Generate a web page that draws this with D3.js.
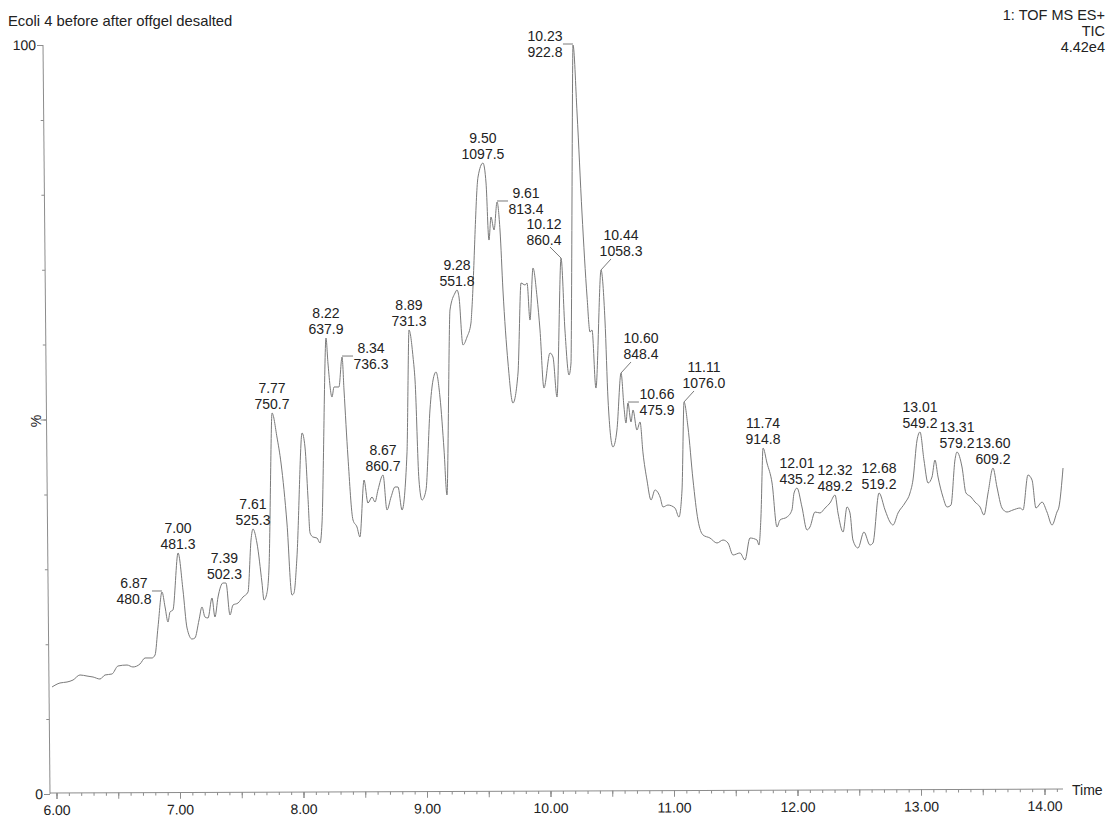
<!DOCTYPE html>
<html><head><meta charset="utf-8">
<script src="https://cdn.jsdelivr.net/npm/d3@7"></script>
<style>body{margin:0;background:#fff} text{font-family:"Liberation Sans",Arial,sans-serif;fill:#222}</style>
</head><body><svg id="c" width="1107" height="821"></svg>
<script>
// ---- data ----
const traceTime = [5.964,6.028,6.085,6.134,6.190,6.247,6.296,6.352,6.393,6.449,6.498,6.571,6.619,6.676,6.717,6.773,6.798,6.822,
6.854,6.879,6.903,6.919,6.943,6.984,7.024,7.057,7.097,7.121,7.154,7.178,
7.202,7.227,7.259,7.283,7.308,7.348,7.372,7.405,7.429,7.470,7.510,7.551,
7.575,7.591,7.623,7.664,7.680,7.704,7.721,7.745,7.785,7.818,7.866,7.907,
7.923,7.947,7.988,8.012,8.036,8.053,8.077,8.109,8.134,8.150,8.182,8.198,
8.231,8.247,8.287,8.312,8.328,8.360,8.401,8.433,8.457,8.490,8.522,8.555,
8.579,8.603,8.644,8.676,8.709,8.741,8.765,8.798,8.838,8.854,8.887,8.903,
8.935,8.960,8.992,9.024,9.049,9.073,9.105,9.138,9.162,9.186,9.227,9.243,
9.259,9.291,9.324,9.356,9.364,9.413,9.453,9.478,9.502,9.518,9.543,9.567,
9.591,9.615,9.656,9.696,9.737,9.761,9.794,9.810,9.834,9.858,9.891,9.915,
9.947,9.996,10.020,10.053,10.085,10.117,10.150,10.166,10.182,10.215,10.255,10.296,
10.320,10.336,10.368,10.409,10.441,10.466,10.506,10.538,10.571,10.595,10.611,10.627,
10.652,10.668,10.700,10.725,10.749,10.781,10.814,10.846,10.887,10.911,10.951,11.008,
11.040,11.065,11.081,11.113,11.154,11.194,11.235,11.291,11.348,11.397,11.437,11.478,
11.534,11.575,11.615,11.672,11.688,11.704,11.721,11.753,11.794,11.834,11.858,11.915,
11.955,11.972,11.996,12.036,12.077,12.101,12.142,12.182,12.223,12.263,12.304,12.328,
12.369,12.401,12.425,12.449,12.490,12.538,12.587,12.611,12.660,12.709,12.749,12.773,
12.814,12.870,12.911,12.935,12.968,12.992,13.024,13.057,13.089,13.113,13.138,13.178,
13.211,13.243,13.275,13.291,13.332,13.364,13.405,13.437,13.478,13.510,13.543,13.583,
13.615,13.656,13.696,13.745,13.802,13.826,13.866,13.899,13.931,13.980,14.020,14.061,
14.101,14.117,14.150];
const traceValue = [14.29,14.82,14.95,15.22,15.89,15.75,15.62,15.35,15.89,16.02,17.09,17.22,16.96,17.36,18.16,18.16,18.56,22.30,
26.97,24.97,22.96,24.30,24.57,32.18,27.24,22.16,20.69,20.83,23.23,24.97,
23.63,23.50,26.17,23.63,26.30,28.17,28.17,23.90,25.23,25.50,26.30,26.97,
33.91,35.38,33.51,28.17,25.90,26.84,30.31,50.87,47.66,44.19,36.18,26.57,
26.84,31.64,48.20,46.33,39.65,34.85,34.31,34.18,33.51,36.18,60.88,57.54,
53.00,54.34,54.34,58.34,53.94,44.99,36.58,35.65,34.31,41.92,38.85,39.65,
38.98,40.59,42.59,37.92,39.65,40.99,40.99,37.92,45.53,61.95,58.34,55.27,
41.92,39.25,40.59,51.27,55.27,56.34,53.00,45.93,39.92,64.62,66.89,67.29,
66.35,59.95,61.01,62.88,64.89,82.37,84.24,81.57,73.96,77.03,75.30,79.04,
75.30,67.29,57.54,52.20,56.21,68.22,67.96,68.22,63.28,70.22,66.35,61.95,
54.20,58.88,58.34,53.00,71.56,61.95,55.94,57.54,100.0,90.92,77.57,66.35,
61.68,61.95,54.20,69.96,63.28,52.60,46.33,48.60,56.21,51.67,49.53,52.20,
49.67,51.27,48.60,49.67,45.53,41.92,39.25,40.59,39.65,38.32,38.58,38.18,
36.98,40.59,52.34,49.00,41.92,36.58,34.58,34.18,33.51,33.91,33.51,31.91,
32.18,31.24,34.18,33.91,33.24,36.98,46.19,44.19,41.52,35.65,36.58,36.98,
37.92,40.19,40.85,38.32,35.25,35.65,37.65,37.52,38.18,38.85,39.92,37.52,
34.98,38.32,37.52,33.91,32.84,34.98,33.24,33.51,40.19,37.92,36.31,35.91,
37.52,38.85,40.19,41.92,47.26,48.33,44.59,41.52,42.32,44.59,42.32,39.65,
38.32,38.58,44.59,45.66,43.66,40.19,39.65,38.98,38.32,37.25,40.19,43.52,
40.99,38.18,37.65,37.92,38.18,37.92,42.59,41.92,38.18,38.98,37.65,35.91,
37.65,38.32,43.52];

const xTickValues = [6,7,8,9,10,11,12,13,14];
const xTickLabels = ["6.00","7.00","8.00","9.00","10.00","11.00","12.00","13.00","14.00"];
const yTickValues = [0,100];
const yTickLabels = ["0","100"];

const peakRT = ["6.87","7.00","7.39","7.61","7.77","8.22","8.34","8.67","8.89","9.28","9.50","9.61","10.12","10.23","10.44","10.60","10.66","11.11","11.74","12.01","12.32","12.68","13.01","13.31","13.60"];
const peakMZ = ["480.8","481.3","502.3","525.3","750.7","637.9","736.3","860.7","731.3","551.8","1097.5","813.4","860.4","922.8","1058.3","848.4","475.9","1076.0","914.8","435.2","489.2","519.2","549.2","579.2","609.2"];
const peakTime = [6.854,6.984,7.360,7.591,7.745,8.182,8.312,8.644,8.854,9.243,9.453,9.567,10.085,10.182,10.409,10.571,10.627,11.081,11.721,11.996,12.304,12.660,12.992,13.291,13.583];
const peakValue = [26.97,32.18,28.17,35.38,50.87,60.88,58.34,42.59,61.95,67.29,84.24,79.04,71.56,100.0,69.96,56.21,52.20,52.34,46.19,40.85,39.92,40.19,48.33,45.66,43.52];

const titleText = "Ecoli 4 before after offgel desalted";
const infoLines = ["1: TOF MS ES+","TIC","4.42e4"];

// ---- layout (not data) ----
const labelPlacement = ["left","top","top","top","top","top","right","top","top","top","top","right","diagL","left","diagR","diagR","right","diagR","top","top","top","top","top","top","top"];

const W = 1107, H = 821;
const svg = d3.select("#c");
svg.append("rect").attr("width",W).attr("height",H).attr("fill","#fff");

const x = d3.scaleLinear().domain([6,14]).range([56.5,1044.5]);
const y = d3.scaleLinear().domain([0,100]).range([794,45]);
const axisColor = "#8c8c8c";

// x axis (slightly tilted like the scanned original)
const gx = svg.append("g").attr("transform","translate(50,793) skewY(-0.226) translate(-50,0)");
gx.append("line").attr("x1",50).attr("x2",1063).attr("y1",0).attr("y2",0).attr("stroke",axisColor);
const minor = d3.range(60,142).map(d=>d/10);
const half = d3.range(12,29).map(d=>d/2);
const gxMinor = gx.append("g").call(d3.axisBottom(x).tickValues(minor).tickSize(3).tickFormat(""));
const gxHalf = gx.append("g").call(d3.axisBottom(x).tickValues(half).tickSize(6).tickFormat(""));
const gxLab = gx.append("g").call(d3.axisBottom(x).tickValues(xTickValues).tickSize(6).tickPadding(6)
  .tickFormat((d,i)=>xTickLabels[i]));
[gxMinor,gxHalf,gxLab].forEach(g=>{
  g.select(".domain").remove();
  g.selectAll("line").attr("stroke",axisColor);
  g.selectAll("text").attr("font-size",14).attr("fill","#222").attr("font-family","Liberation Sans, Arial, sans-serif");
});

// y axis
const gy = svg.append("g").attr("transform","translate(50,794) skewX(0.535) translate(0,-794)");
gy.append("line").attr("x1",0).attr("x2",0).attr("y1",y(0)).attr("y2",y(100)).attr("stroke",axisColor);
const gyMinor = gy.append("g").call(d3.axisLeft(y).tickValues(d3.range(0,101,10)).tickSize(3).tickFormat(""));
const gyMid = gy.append("g").call(d3.axisLeft(y).tickValues([50]).tickSize(6).tickFormat(""));
const gyLab = gy.append("g").call(d3.axisLeft(y).tickValues(yTickValues).tickSize(6).tickPadding(1)
  .tickFormat((d,i)=>yTickLabels[i]));
[gyMinor,gyMid,gyLab].forEach(g=>{
  g.select(".domain").remove();
  g.selectAll("line").attr("stroke",axisColor);
  g.selectAll("text").attr("font-size",14).attr("fill","#222").attr("font-family","Liberation Sans, Arial, sans-serif");
});

svg.append("text").attr("transform","translate(37,421) rotate(-90)").attr("text-anchor","middle")
  .attr("dominant-baseline","middle").attr("font-size",14).text("%");
svg.append("text").attr("x",1072).attr("y",795).attr("font-size",14).text("Time");

// title / info
svg.append("text").attr("x",8).attr("y",26).attr("font-size",14.8).text(titleText);
svg.append("g").selectAll("text").data(infoLines).join("text")
  .attr("x",1105).attr("y",(d,i)=>20+i*16).attr("text-anchor","end").attr("font-size",14.5).text(d=>d);

// trace
const pts = traceTime.map((t,i)=>[t,traceValue[i]]);
svg.append("path").datum(pts)
  .attr("d",d3.line().curve(d3.curveMonotoneX).x(d=>x(d[0])).y(d=>y(d[1])))
  .attr("fill","none").attr("stroke","#7a7a7a").attr("stroke-width",1).attr("stroke-linejoin","round");

// annotations
const ann = svg.append("g");
const LH = 16;
peakRT.forEach((rt,i)=>{
  const ax = x(peakTime[i]), ay = y(peakValue[i]);
  const type = labelPlacement[i];
  let cx, b2, lead = null;
  if (type==="top"){ cx = ax; b2 = ay-4; }
  else if (type==="left"){ cx = ax-28; b2 = ay+12; lead=[ax-10,ay-1,ax,ay-1]; }
  else if (type==="right"){ cx = ax+29; b2 = ay+12; lead=[ax,ay-1,ax+11,ay-1]; }
  else if (type==="diagL"){ cx = ax-17; b2 = ay-13; lead=[ax,ay,ax-11,ay-11]; }
  else { cx = ax+20; b2 = ay-14; lead=[ax,ay,ax+10,ay-11]; }
  if (lead) ann.append("line").attr("x1",lead[0]).attr("y1",lead[1]).attr("x2",lead[2]).attr("y2",lead[3])
    .attr("stroke","#7a7a7a").attr("stroke-width",1);
  ann.append("text").attr("x",cx).attr("y",b2-LH).attr("text-anchor","middle").attr("font-size",14).text(rt);
  ann.append("text").attr("x",cx).attr("y",b2).attr("text-anchor","middle").attr("font-size",14).text(peakMZ[i]);
});
</script></body></html>
